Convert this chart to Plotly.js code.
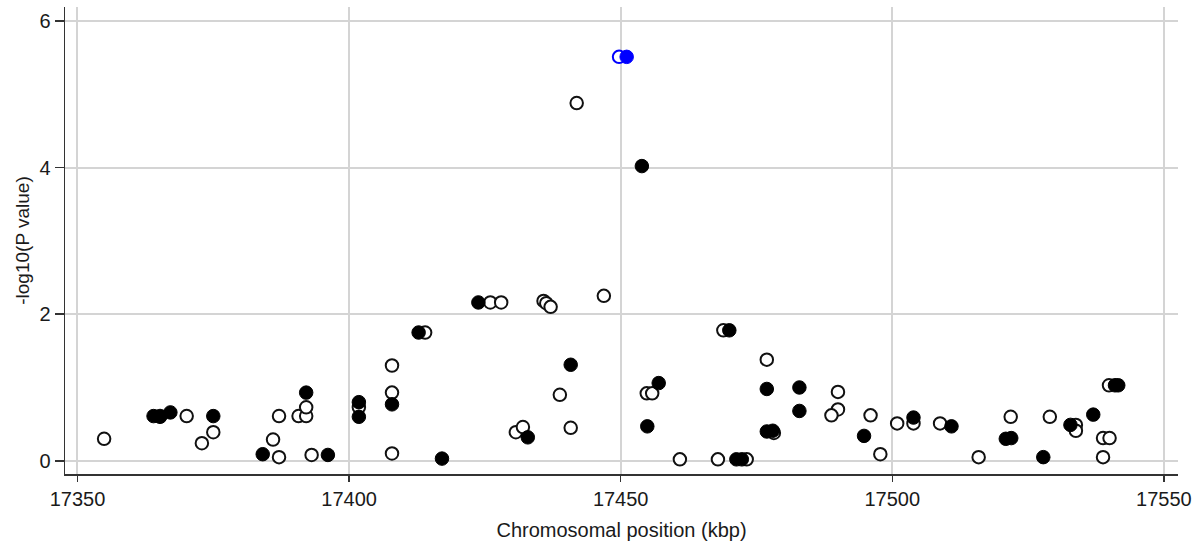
<!DOCTYPE html>
<html>
<head>
<meta charset="utf-8">
<script src="https://cdn.plot.ly/plotly-3.0.1.min.js"></script>
<style>html,body{margin:0;padding:0;background:#fff;}#chart{width:1204px;height:548px;}</style>
</head>
<body>
<div id="chart"></div>
<script>
// Open (hollow) black circles
const openX = [17354.9, 17365.2, 17370.1, 17375.0, 17372.9, 17386.0, 17387.1, 17387.1, 17390.7, 17392.1, 17392.1, 17393.1,
  17401.8, 17407.9, 17407.9, 17407.9, 17414.0, 17426.0, 17428.0, 17435.8, 17436.3, 17437.1, 17446.9, 17438.8, 17440.8,
  17430.7, 17432.0, 17441.9, 17454.8, 17455.8, 17460.9, 17467.9, 17473.2, 17468.9, 17476.9, 17478.2,
  17490.0, 17490.0, 17488.8, 17496.0, 17497.8, 17500.9, 17503.9, 17508.8, 17515.9, 17521.8, 17529.0, 17533.8, 17533.8,
  17538.8, 17540.0, 17538.8, 17539.9];
const openY = [0.30, 0.61, 0.61, 0.39, 0.24, 0.29, 0.05, 0.61, 0.61, 0.61, 0.73, 0.08,
  0.73, 1.30, 0.93, 0.10, 1.75, 2.16, 2.16, 2.18, 2.15, 2.10, 2.25, 0.90, 0.45,
  0.39, 0.46, 4.88, 0.92, 0.92, 0.02, 0.02, 0.02, 1.78, 1.38, 0.38,
  0.94, 0.70, 0.62, 0.62, 0.09, 0.51, 0.51, 0.51, 0.05, 0.60, 0.60, 0.49, 0.41,
  0.31, 0.31, 0.05, 1.03];

// Filled black circles
const filledX = [17364.0, 17365.2, 17367.1, 17375.0, 17384.1, 17392.1, 17396.1, 17401.8, 17401.8, 17407.9,
  17412.8, 17417.1, 17423.8, 17440.8, 17432.9, 17453.9, 17457.0, 17454.9, 17470.0, 17471.3, 17472.3,
  17476.9, 17476.9, 17478.0, 17482.9, 17482.9, 17494.8, 17503.9, 17510.9,
  17520.9, 17521.9, 17527.8, 17532.8, 17537.0, 17541.0, 17541.6];
const filledY = [0.61, 0.60, 0.66, 0.61, 0.09, 0.93, 0.08, 0.80, 0.60, 0.77,
  1.75, 0.03, 2.16, 1.31, 0.32, 4.02, 1.06, 0.47, 1.78, 0.02, 0.02,
  0.98, 0.40, 0.41, 1.00, 0.68, 0.34, 0.59, 0.47,
  0.30, 0.31, 0.05, 0.49, 0.63, 1.03, 1.03];

// Highlighted (blue) SNPs
const blueOpenX = [17449.7];
const blueOpenY = [5.51];
const blueFilledX = [17451.1];
const blueFilledY = [5.51];

const xTicks = [17350, 17400, 17450, 17500, 17550];
const yTicks = [0, 2, 4, 6];

const font = 'Liberation Sans, Arial, sans-serif';

const traces = [
  {x: openX, y: openY, type: 'scatter', mode: 'markers', hoverinfo: 'x+y',
   marker: {symbol: 'circle', size: 12.5, color: '#ffffff', line: {color: '#111111', width: 2}}},
  {x: filledX, y: filledY, type: 'scatter', mode: 'markers', hoverinfo: 'x+y',
   marker: {symbol: 'circle', size: 13.5, color: '#000000', line: {color: '#000000', width: 1}}},
  {x: blueOpenX, y: blueOpenY, type: 'scatter', mode: 'markers', hoverinfo: 'x+y',
   marker: {symbol: 'circle', size: 12.5, color: '#ffffff', line: {color: '#0000ff', width: 2}}},
  {x: blueFilledX, y: blueFilledY, type: 'scatter', mode: 'markers', hoverinfo: 'x+y',
   marker: {symbol: 'circle', size: 13.5, color: '#0000ff', line: {color: '#0000ff', width: 1}}}
];

const layout = {
  width: 1204, height: 548,
  margin: {l: 65, r: 26, t: 7, b: 74},
  paper_bgcolor: '#ffffff', plot_bgcolor: '#ffffff',
  showlegend: false,
  font: {family: font, size: 19, color: '#1a1a1a'},
  xaxis: {
    range: [17347.7, 17552.6], tickvals: xTicks, ticktext: xTicks.map(String),
    ticks: 'outside', ticklen: 6, tickwidth: 1.5, tickcolor: '#333333',
    showline: true, linecolor: '#333333', linewidth: 1.5,
    showgrid: true, gridcolor: '#d4d4d4', gridwidth: 2, zeroline: false,
    tickfont: {family: font, size: 20, color: '#1a1a1a'},
    title: {text: 'Chromosomal position (kbp)', font: {family: font, size: 20, color: '#1a1a1a'}, standoff: 14}
  },
  yaxis: {
    range: [-0.18, 6.19], tickvals: yTicks, ticktext: yTicks.map(String),
    ticks: 'outside', ticklen: 9, tickwidth: 1.5, tickcolor: '#333333',
    showline: true, linecolor: '#333333', linewidth: 1.5,
    showgrid: true, gridcolor: '#d4d4d4', gridwidth: 2, zeroline: false,
    tickfont: {family: font, size: 20, color: '#1a1a1a'},
    title: {text: '-log10(P value)', font: {family: font, size: 19, color: '#1a1a1a'}, standoff: 4}
  }
};

Plotly.newPlot('chart', traces, layout, {displayModeBar: false, staticPlot: true});
</script>
</body>
</html>
